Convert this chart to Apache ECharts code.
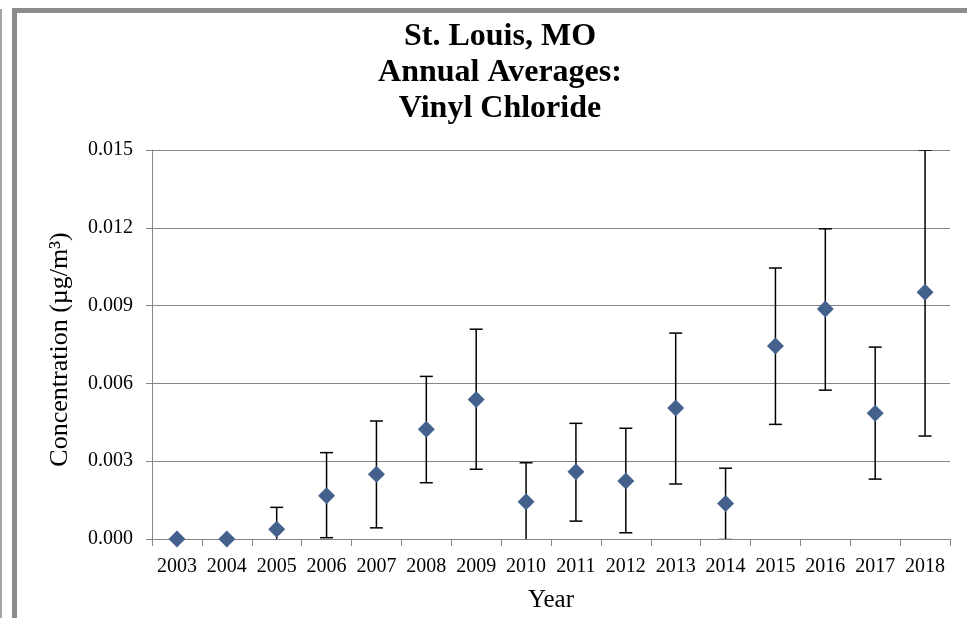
<!DOCTYPE html>
<html>
<head>
<meta charset="utf-8">
<script src="https://cdn.jsdelivr.net/npm/echarts@6/dist/echarts.min.js"></script>
<style>
html,body{margin:0;padding:0;background:#fff;}
#chart{width:967px;height:618px;}
</style>
</head>
<body>
<div id="chart"></div>
<script>
// Data
const years = ['2003','2004','2005','2006','2007','2008','2009','2010','2011','2012','2013','2014','2015','2016','2017','2018'];
const means = [0, 0, 0.00038, 0.00167, 0.00250, 0.00423, 0.00538, 0.00144, 0.00259, 0.00224, 0.00505, 0.00137, 0.00744, 0.00887, 0.00485, 0.00951];
const lowerBounds = [null, null, -0.00046, 0.00005, 0.00043, 0.00217, 0.00269, -0.00006, 0.00069, 0.00024, 0.00212, -0.00002, 0.00442, 0.00574, 0.00231, 0.00397];
const upperBounds = [null, null, 0.00122, 0.00333, 0.00455, 0.00627, 0.00809, 0.00294, 0.00446, 0.00427, 0.00794, 0.00273, 0.01045, 0.01196, 0.00740, 0.01500];
const yTicks = [0, 0.003, 0.006, 0.009, 0.012, 0.015];

const FONT = "'Liberation Serif', 'DejaVu Serif', serif";
const chart = echarts.init(document.getElementById('chart'), null, {renderer: 'canvas'});

const errData = years.map((y, i) => [i, lowerBounds[i], upperBounds[i]]).filter(d => d[1] !== null);

const option = {
  backgroundColor: '#ffffff',
  animation: false,
  graphic: [
    {type: 'rect', shape: {x: 12, y: 8, width: 955, height: 5}, style: {fill: '#8c8c8c'}, z: 100},
    {type: 'rect', shape: {x: 12, y: 8, width: 5, height: 610}, style: {fill: '#8c8c8c'}, z: 100},
    {type: 'rect', shape: {x: 0, y: 9, width: 2, height: 609}, style: {fill: '#a4a4a4'}, z: 100}
  ],
  title: {
    text: 'St. Louis, MO\nAnnual Averages:\nVinyl Chloride',
    left: 495,
    top: 14,
    textAlign: 'center',
    textStyle: {
      fontFamily: FONT,
      fontWeight: 'bold',
      fontSize: 32,
      lineHeight: 36,
      color: '#000'
    }
  },
  grid: {left: 152, right: 17, top: 150, bottom: 78, containLabel: false},
  xAxis: {
    type: 'category',
    data: years,
    boundaryGap: true,
    name: 'Year',
    nameLocation: 'middle',
    nameGap: 49,
    nameTextStyle: {fontFamily: FONT, fontSize: 25, color: '#000'},
    axisLine: {show: true, lineStyle: {color: '#868686', width: 1}},
    axisTick: {show: true, length: 7, alignWithLabel: false, lineStyle: {color: '#868686'}},
    axisLabel: {fontFamily: FONT, fontSize: 20, color: '#000', margin: 18, interval: 0},
    splitLine: {show: false}
  },
  yAxis: {
    type: 'value',
    min: 0,
    max: 0.015,
    interval: 0.003,
    name: 'Concentration (µg/m³)',
    nameLocation: 'middle',
    nameGap: 79,
    nameRotate: 90,
    nameTextStyle: {fontFamily: FONT, fontSize: 26, color: '#000', padding: [0, 10, 0, 0]},
    axisLine: {show: true, lineStyle: {color: '#868686', width: 1}},
    axisTick: {show: true, length: 6, lineStyle: {color: '#868686'}},
    axisLabel: {
      fontFamily: FONT, fontSize: 20, color: '#000', margin: 19,
      formatter: v => yTicks.some(t => Math.abs(t - v) < 1e-9) ? v.toFixed(3) : ''
    },
    splitLine: {show: true, lineStyle: {color: '#868686', width: 1}}
  },
  series: [
    {
      type: 'custom',
      name: 'error',
      clip: true,
      z: 3,
      data: errData,
      renderItem: function (params, api) {
        const x = api.value(0);
        const lo = api.coord([x, api.value(1)]);
        const hi = api.coord([x, api.value(2)]);
        const half = 6.5;
        const style = {stroke: '#000', lineWidth: 1.5};
        return {
          type: 'group',
          children: [
            {type: 'line', shape: {x1: lo[0], y1: lo[1], x2: hi[0], y2: hi[1]}, style: style},
            {type: 'line', shape: {x1: hi[0] - half, y1: hi[1], x2: hi[0] + half, y2: hi[1]}, style: style},
            {type: 'line', shape: {x1: lo[0] - half, y1: lo[1], x2: lo[0] + half, y2: lo[1]}, style: style}
          ]
        };
      }
    },
    {
      type: 'scatter',
      name: 'mean',
      z: 5,
      symbol: 'diamond',
      symbolSize: [17, 17],
      itemStyle: {color: '#44618E', opacity: 1},
      clip: false,
      data: means.map((v, i) => [i, v])
    }
  ]
};
chart.setOption(option);
</script>
</body>
</html>
